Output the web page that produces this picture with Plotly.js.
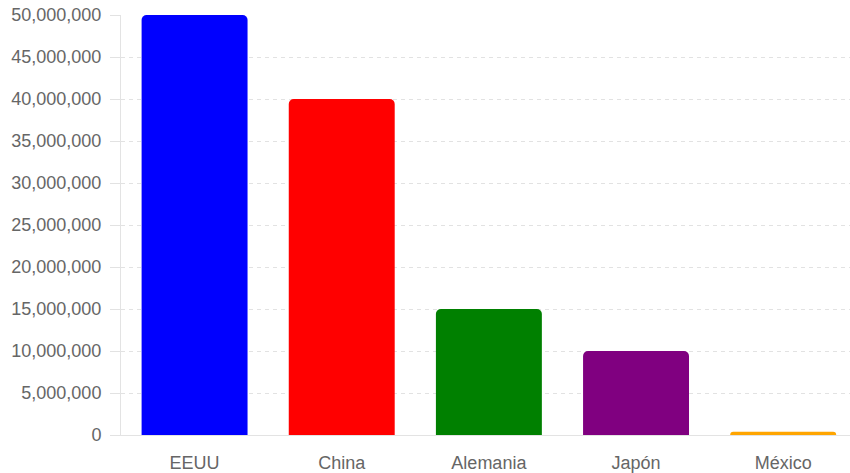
<!DOCTYPE html>
<html>
<head>
<meta charset="utf-8">
<script src="https://cdn.plot.ly/plotly-3.0.1.min.js"></script>
<style>html,body{margin:0;padding:0;background:#fff;}#chart{width:850px;height:473px;}</style>
</head>
<body>
<div id="chart"></div>
<script>
const countries = ["EEUU", "China", "Alemania", "Japón", "México"];
const values = [50000000, 40000000, 15000000, 10000000, 400000];
const colors = ["blue", "red", "green", "purple", "orange"];
const yTicks = [0, 5000000, 10000000, 15000000, 20000000, 25000000, 30000000, 35000000, 40000000, 45000000, 50000000];

const trace = {
  type: "bar",
  x: countries,
  y: values,
  marker: { color: colors, line: { width: 0 } },
  hoverinfo: "none"
};

const layout = {
  width: 850,
  height: 473,
  margin: { l: 121, r: 0, t: 15, b: 38 },
  paper_bgcolor: "#fff",
  plot_bgcolor: "#fff",
  showlegend: false,
  bargap: 0.28,
  barcornerradius: 5,
  font: { family: "Liberation Sans, Arial, sans-serif", size: 18, color: "#666" },
  xaxis: {
    type: "category",
    range: [-0.5, 4.454],
    showgrid: false,
    showline: true,
    linecolor: "#e3e3e3",
    linewidth: 1,
    ticks: "outside",
    ticklen: 11,
    tickcolor: "rgba(0,0,0,0)",
    tickfont: { size: 18, color: "#666" },
    zeroline: false
  },
  yaxis: {
    range: [0, 50000000],
    tickvals: yTicks,
    tickformat: ",d",
    showgrid: true,
    gridcolor: "#e2e2e2",
    griddash: "4px,4px",
    showline: true,
    linecolor: "#e3e3e3",
    linewidth: 1,
    ticks: "outside",
    ticklen: 10,
    tickcolor: "#e2e2e2",
    ticklabelstandoff: 5,
    tickfont: { size: 18, color: "#666" },
    zeroline: false
  }
};

Plotly.newPlot("chart", [trace], layout, { staticPlot: true, displayModeBar: false });
</script>
</body>
</html>
